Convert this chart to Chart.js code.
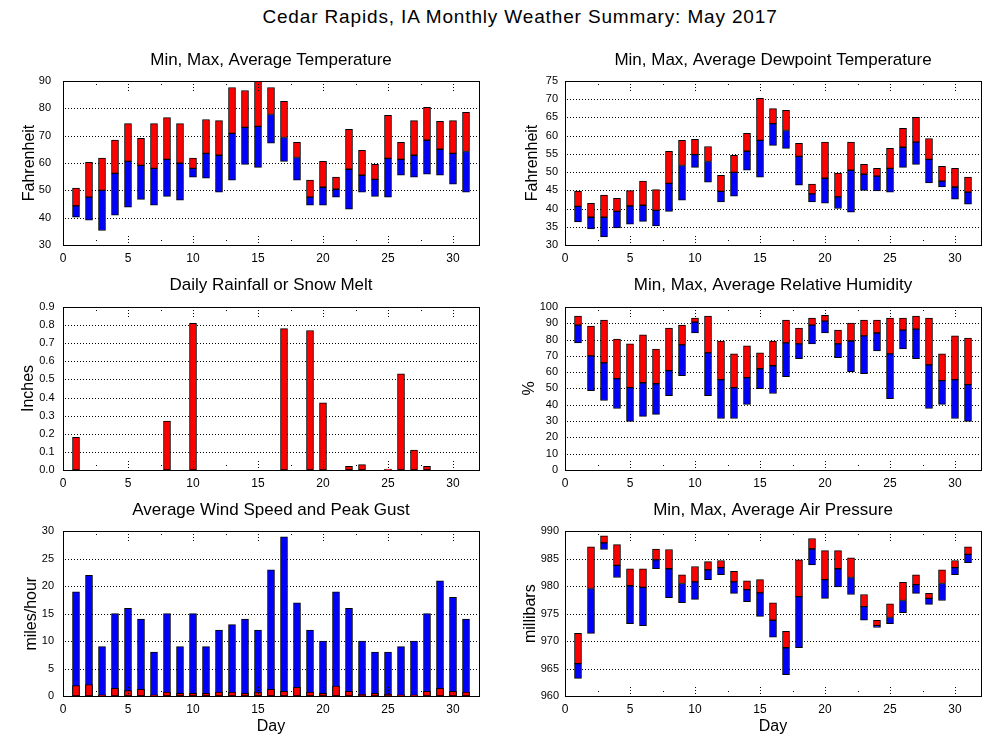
<!DOCTYPE html>
<html>
<head>
<meta charset="utf-8">
<script src="https://cdn.jsdelivr.net/npm/chart.js@4"></script>
<style>
  body { margin: 0; background: #fff; }
  #wrap { position: relative; width: 1000px; height: 750px; overflow: hidden; }
  #title { position: absolute; left: 0; width: 1040px; top: 6px; line-height: 22px; text-align: center;
           font-family: "Liberation Sans", Arial, sans-serif; font-size: 19px; letter-spacing: 0.85px; color: #000; }
  canvas { position: absolute; }
</style>
</head>
<body>
<div id="wrap">
  <div id="title">Cedar Rapids, IA Monthly Weather Summary: May 2017</div>
  <canvas id="temp" width="500" height="230" style="left:0;top:40px"></canvas>
  <canvas id="dew" width="500" height="230" style="left:500px;top:40px"></canvas>
  <canvas id="rain" width="500" height="225" style="left:0;top:270px"></canvas>
  <canvas id="rh" width="500" height="225" style="left:500px;top:270px"></canvas>
  <canvas id="wind" width="500" height="255" style="left:0;top:495px"></canvas>
  <canvas id="pres" width="500" height="255" style="left:500px;top:495px"></canvas>
</div>
<script>
const days = [1, 2, 3, 4, 5, 6, 7, 8, 9, 10, 11, 12, 13, 14, 15, 16, 17, 18, 19, 20, 21, 22, 23, 24, 25, 26, 27, 28, 29, 30, 31];

const tempMax = [50.8, 60.2, 61.8, 68.4, 74.4, 69, 74.4, 76.6, 74.4, 61.8, 75.9, 75.5, 87.6, 86.5, 90, 87.6, 82.5, 67.5, 53.7, 60.6, 54.8, 72.3, 64.6, 59.5, 77.4, 67.5, 75.5, 80.3, 75.2, 75.5, 78.5];
const tempAvg = [44.3, 47.5, 50, 56.2, 60.6, 59.1, 58, 61.3, 59.9, 58, 63.5, 62.8, 70.8, 73, 73.4, 77.7, 69.3, 62, 47.5, 51.1, 50.4, 57.7, 55.5, 54, 61.7, 61.3, 62.8, 68.3, 65, 63.5, 64.2];
const tempMin = [40.2, 39.1, 35.3, 40.9, 43.8, 46.7, 44.6, 47.8, 46.4, 54.8, 54.4, 49.3, 53.7, 59.5, 58.4, 67.2, 60.6, 53.7, 44.6, 44.6, 47.5, 43.1, 49.3, 47.8, 47.5, 55.5, 54.8, 55.9, 55.5, 52.2, 49.3];

const dewMax = [44.8, 41.4, 43.7, 42.8, 44.9, 47.5, 45.2, 55.7, 58.7, 59, 57, 49.1, 54.6, 60.6, 70.2, 67.4, 66.9, 57.9, 46.7, 58.2, 49.7, 58.2, 52.1, 51, 56.5, 62, 65, 59.2, 51.6, 51, 48.6];
const dewAvg = [40.6, 37.6, 37.6, 39.2, 40.7, 40.9, 39.5, 46.9, 51.8, 54.8, 52.9, 44.7, 49.9, 55.7, 58.7, 63.3, 61.4, 54.3, 44, 48.3, 43.2, 50.5, 49.4, 48.9, 51, 56.8, 58.2, 53.5, 47.5, 45.9, 44.5];
const dewMin = [36.3, 34.4, 32.2, 34.7, 35.7, 36.5, 35.2, 39.2, 42.3, 51.3, 47.2, 41.8, 43.4, 50.5, 48.6, 57.3, 56.5, 46.4, 41.8, 41.5, 40, 39, 45, 44.8, 44.5, 51.3, 52.1, 47, 45.9, 42.6, 41.2];

const rainfall = [0.18, 0, 0, 0, 0, 0, 0, 0.27, 0, 0.81, 0, 0, 0, 0, 0, 0, 0.78, 0, 0.77, 0.37, 0, 0.02, 0.03, 0, 0.005, 0.53, 0.11, 0.02, 0, 0, 0];

const rhMax = [94.3, 88.2, 91.9, 80.3, 77.3, 82.8, 74.2, 87, 88.8, 93.1, 94.3, 79.1, 71.2, 76.1, 71.8, 79.1, 91.9, 87, 93.1, 94.9, 85.8, 90.1, 91.9, 91.9, 93.1, 93.1, 94.3, 93.1, 71.2, 82.2, 80.9];
const rhAvg = [88.8, 70, 65.7, 56, 50.5, 53.5, 52.9, 60.9, 76.7, 90.7, 71.8, 55.4, 50.5, 56.6, 62.1, 63.9, 77.9, 77.3, 88.8, 91.3, 77.3, 79.1, 82.2, 84, 71.2, 85.8, 86.4, 64.5, 54.8, 55.4, 52.3];
const rhMin = [77.9, 48.7, 42.6, 37.7, 29.8, 32.9, 34.1, 45.6, 57.8, 84, 45.6, 31.6, 31.6, 40.2, 49.9, 46.9, 57.2, 68.2, 77.3, 84, 68.8, 60.2, 59, 73, 43.8, 74.2, 68.2, 37.7, 40.2, 31.6, 29.8];

const gust = [19, 22, 9, 15, 16, 14, 8, 15, 9, 15, 9, 12, 13, 14, 12, 23, 29, 17, 12, 10, 19, 16, 10, 8, 8, 9, 10, 15, 21, 18, 14];
const windAvg = [1.9, 2.1, 0.2, 1.4, 1.0, 1.2, 0.2, 0.7, 0.5, 0.5, 0.5, 0.7, 0.7, 0.5, 0.7, 1.2, 0.85, 1.6, 0.7, 0.5, 1.8, 0.85, 0.3, 0.5, 0.3, 0.2, 0.2, 0.85, 1.4, 0.85, 0.7];

const presMax = [971.4, 987.2, 989.2, 987.6, 983.2, 983.2, 986.8, 986.7, 982.1, 983.6, 984.5, 984.7, 982.7, 981, 981.2, 977, 971.8, 984.8, 988.7, 986.5, 986.5, 985.2, 978.5, 973.8, 976.8, 980.7, 982.1, 978.7, 983, 984.7, 987.2];
const presAvg = [965.9, 979.6, 987.9, 983.8, 980.1, 979.8, 984.8, 983.2, 980.5, 980.8, 983, 983.4, 980.8, 979.4, 978.8, 973.8, 968.8, 978.1, 986.8, 981.2, 983.2, 981.6, 976.3, 972.8, 974.3, 977.4, 980.3, 977.8, 980.5, 983.4, 985.8];
const presMin = [963.2, 971.4, 986.7, 981.6, 973.2, 972.8, 983.2, 977.9, 977, 977.6, 981.2, 982.1, 978.7, 977.2, 974.5, 970.7, 963.9, 968.8, 983.9, 977.8, 979.9, 978.5, 973.8, 972.5, 973.2, 975.2, 978.7, 976.7, 977.4, 982.1, 984.3];

const RED = "#ff0000";
const BLUE = "#0000ff";
const FONT = "'Liberation Sans', Arial, sans-serif";

// floating bar points {x: day, y: [lo, hi]}
function spans(lo, hi) {
    return days.map((d, i) => ({ x: d, y: [lo[i], hi[i]] }));
}
function bars(vals) {
    return days.map((d, i) => ({ x: d, y: vals[i] > 0 ? vals[i] : null }));
}
function barSet(data, color) {
    return {
        data: data,
        backgroundColor: color,
        borderColor: "#000",
        borderWidth: 1,
        borderSkipped: false,
        barThickness: 7,
        grouped: false,
    };
}

// 1px dots every 3px, drawn as pixels so they stay crisp
function dotsH(ctx, x0, x1, y) {
    for (let x = Math.round(x0) + 2; x < x1 - 1; x += 3) ctx.fillRect(x, y, 1, 1);
}
function dotsV(ctx, x, y0, y1) {
    const a = Math.min(y0, y1), b = Math.max(y0, y1);
    for (let y = a; y <= b; y += 3) ctx.fillRect(x, y, 1, 1);
}

// dotted grid under the bars, box and inward day ticks over them
const framePlugin = {
    id: "frame",
    beforeDatasetsDraw(chart) {
        const { ctx, chartArea: a } = chart;
        const y = chart.scales.y;
        ctx.save();
        ctx.fillStyle = "#000";
        y.ticks.forEach((t) => {
            if (t.value <= y.min || t.value >= y.max) return;
            dotsH(ctx, a.left, a.right, Math.round(y.getPixelForValue(t.value)));
        });
        ctx.restore();
    },
    afterDatasetsDraw(chart) {
        const { ctx, chartArea: a } = chart;
        const x = chart.scales.x;
        const top = Math.round(a.top), bottom = Math.round(a.bottom);
        ctx.save();
        ctx.fillStyle = "#000";
        for (let v = 2.5; v < 32; v += 2.5) {
            const px = Math.round(x.getPixelForValue(v));
            const len = v % 5 === 0 ? 6 : 2;
            dotsV(ctx, px, top + 3, top + 3 + len);
            dotsV(ctx, px, bottom - 3 - len, bottom - 3);
        }
        ctx.strokeStyle = "#000";
        ctx.lineWidth = 1;
        ctx.strokeRect(Math.round(a.left) + 0.5, top + 0.5, Math.round(a.width), Math.round(a.height));
        ctx.restore();
    },
};

function makePanel(id, p) {
    return new Chart(document.getElementById(id), {
        type: "bar",
        data: { datasets: p.datasets },
        plugins: [framePlugin],
        options: {
            responsive: false,
            devicePixelRatio: 1,
            animation: false,
            layout: { padding: { left: 0, right: p.padRight, top: 0, bottom: 0 } },
            plugins: {
                legend: { display: false },
                tooltip: { enabled: false },
                title: {
                    display: true,
                    text: p.title,
                    fullSize: false,
                    color: "#000",
                    font: { family: FONT, size: 17, weight: "normal", lineHeight: 1.2 },
                    padding: p.titlePad,
                },
            },
            scales: {
                x: {
                    type: "linear",
                    min: 0,
                    max: 32,
                    offset: false,
                    grid: { display: false, drawTicks: false },
                    border: { display: false },
                    ticks: {
                        stepSize: 5,
                        includeBounds: false,
                        autoSkip: false,
                        padding: 6,
                        maxRotation: 0,
                        color: "#000",
                        font: { family: FONT, size: 12 },
                    },
                    title: {
                        display: !!p.xTitle,
                        text: p.xTitle || "",
                        color: "#000",
                        font: { family: FONT, size: 16 },
                        padding: { top: 0, bottom: 14 },
                    },
                    afterFit: (s) => { s.height = p.xHeight; },
                },
                y: {
                    min: p.yMin,
                    max: p.yMax,
                    grid: { display: false, drawTicks: false },
                    border: { display: false },
                    ticks: {
                        stepSize: p.yStep,
                        autoSkip: false,
                        padding: p.yPad,
                        color: "#000",
                        font: { family: FONT, size: 11 },
                        callback: p.yFmt || ((v) => v),
                    },
                    title: {
                        display: true,
                        text: p.yTitle,
                        color: "#000",
                        font: { family: FONT, size: 16 },
                        padding: { top: p.yTitlePad, bottom: 0 },
                    },
                    afterFit: (s) => { s.width = p.yWidth; },
                },
            },
        },
    });
}

const LEFT = { yWidth: 63, padRight: 21 };
const RIGHT = { yWidth: 65, padRight: 19 };
const ROW1 = { titlePad: { top: 10.5, bottom: 10 }, xHeight: 25 };
const ROW2 = { titlePad: { top: 5, bottom: 11.5 }, xHeight: 25 };
const ROW3 = { titlePad: { top: 5, bottom: 11 }, xHeight: 54, xTitle: "Day" };

makePanel("temp", Object.assign({}, LEFT, ROW1, {
    title: "Min, Max, Average Temperature", yTitle: "Fahrenheit", yTitlePad: 20, yPad: 12,
    yMin: 30, yMax: 90, yStep: 10,
    datasets: [barSet(spans(tempMin, tempAvg), BLUE), barSet(spans(tempAvg, tempMax), RED)],
}));

makePanel("dew", Object.assign({}, RIGHT, ROW1, {
    title: "Min, Max, Average Dewpoint Temperature", yTitle: "Fahrenheit", yTitlePad: 23, yPad: 7,
    yMin: 30, yMax: 75, yStep: 5,
    datasets: [barSet(spans(dewMin, dewAvg), BLUE), barSet(spans(dewAvg, dewMax), RED)],
}));

makePanel("rain", Object.assign({}, LEFT, ROW2, {
    title: "Daily Rainfall or Snow Melt", yTitle: "Inches", yTitlePad: 19, yPad: 8.5,
    yMin: 0, yMax: 0.9, yStep: 0.1, yFmt: (v) => v.toFixed(1),
    datasets: [barSet(bars(rainfall), RED)],
}));

makePanel("rh", Object.assign({}, RIGHT, ROW2, {
    title: "Min, Max, Average Relative Humidity", yTitle: "%", yTitlePad: 20, yPad: 7,
    yMin: 0, yMax: 100, yStep: 10,
    datasets: [barSet(spans(rhMin, rhAvg), BLUE), barSet(spans(rhAvg, rhMax), RED)],
}));

makePanel("wind", Object.assign({}, LEFT, ROW3, {
    title: "Average Wind Speed and Peak Gust", yTitle: "miles/hour", yTitlePad: 22, yPad: 9,
    yMin: 0, yMax: 30, yStep: 5,
    datasets: [barSet(bars(windAvg), RED), barSet(bars(gust), BLUE)],
}));

makePanel("pres", Object.assign({}, RIGHT, ROW3, {
    title: "Min, Max, Average Air Pressure", yTitle: "millibars", yTitlePad: 21, yPad: 6,
    yMin: 960, yMax: 990, yStep: 5,
    datasets: [barSet(spans(presMin, presAvg), BLUE), barSet(spans(presAvg, presMax), RED)],
}));
</script>
</body>
</html>
